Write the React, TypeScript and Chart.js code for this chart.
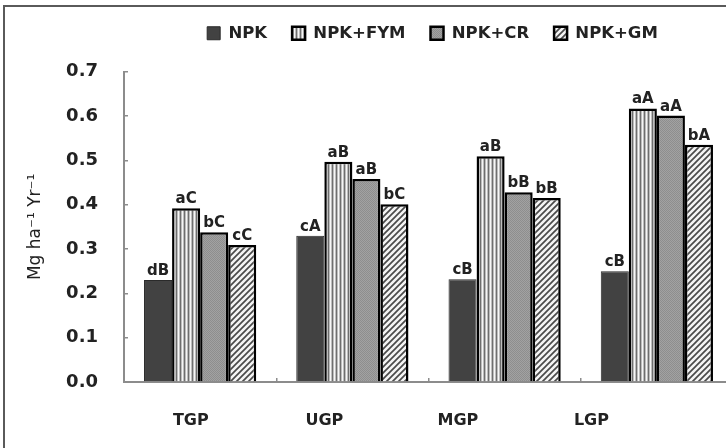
import React, { useEffect, useRef } from "react";
import { Chart, registerables } from "chart.js";

Chart.register(...registerables);

const categories = ["TGP", "UGP", "MGP", "LGP"];
const seriesNames = ["NPK", "NPK+FYM", "NPK+CR", "NPK+GM"];
const npk = [0.23, 0.33, 0.232, 0.25];
const npkFym = [0.392, 0.497, 0.509, 0.617];
const npkCr = [0.338, 0.458, 0.428, 0.601];
const npkGm = [0.309, 0.401, 0.415, 0.535];
const npkLetters = ["dB", "cA", "cB", "cB"];
const npkFymLetters = ["aC", "aB", "aB", "aA"];
const npkCrLetters = ["bC", "aB", "bB", "aA"];
const npkGmLetters = ["cC", "bC", "bB", "bA"];
const yMin = 0;
const yMax = 0.7;
const yStep = 0.1;
const yTitle = "Mg ha\u207B\u00B9 Yr\u207B\u00B9";

const FONT = "'DejaVu Sans', Verdana, sans-serif";
const TEXT = "#222222";
const AXIS = "#8c8c8c";

function makePattern(kind: string): CanvasPattern | string {
  const c = document.createElement("canvas");
  const ctx = c.getContext("2d");
  if (!ctx) return "#999";
  if (kind === "vstripe") {
    c.width = 4;
    c.height = 4;
    const cols = ["#6e6e6e", "#bdbdbd", "#f6f6f6", "#bdbdbd"];
    cols.forEach((col, i) => {
      ctx.fillStyle = col;
      ctx.fillRect(i, 0, 1, 4);
    });
  } else if (kind === "dots") {
    c.width = 2;
    c.height = 2;
    ctx.fillStyle = "#a2a2a2";
    ctx.fillRect(0, 0, 2, 2);
    ctx.fillStyle = "#8e8e8e";
    ctx.fillRect(0, 0, 1, 1);
    ctx.fillRect(1, 1, 1, 1);
  } else {
    c.width = 6;
    c.height = 6;
    ctx.fillStyle = "#f4f4f4";
    ctx.fillRect(0, 0, 6, 6);
    ctx.strokeStyle = "#4a4a4a";
    ctx.lineWidth = 1.7;
    ctx.beginPath();
    ctx.moveTo(-3, 3);
    ctx.lineTo(3, -3);
    ctx.moveTo(0, 6);
    ctx.lineTo(6, 0);
    ctx.moveTo(3, 9);
    ctx.lineTo(9, 3);
    ctx.stroke();
  }
  return ctx.createPattern(c, "repeat") || "#999";
}

export default function App() {
  const ref = useRef<HTMLCanvasElement | null>(null);

  useEffect(() => {
    const canvas = ref.current;
    if (!canvas) return;
    const letters = [npkLetters, npkFymLetters, npkCrLetters, npkGmLetters];

    const labelPlugin = {
      id: "barLetters",
      afterDatasetsDraw(chart: any) {
        const ctx = chart.ctx;
        ctx.save();
        ctx.font = `bold 15px ${FONT}`;
        ctx.fillStyle = TEXT;
        ctx.textAlign = "center";
        ctx.textBaseline = "alphabetic";
        chart.data.datasets.forEach((_ds: any, i: number) => {
          const meta = chart.getDatasetMeta(i);
          meta.data.forEach((el: any, j: number) => {
            ctx.fillText(letters[i][j], el.x, el.y - 5);
          });
        });
        ctx.restore();
      },
    };

    const legendShift = {
      id: "legendShift",
      afterLayout(chart: any) {
        const lg = chart.legend;
        if (lg) {
          lg.left += 4;
          lg.right += 4;
        }
      },
    };

    const chart = new Chart(canvas, {
      type: "bar",
      data: {
        labels: categories,
        datasets: [
          {
            label: seriesNames[0],
            data: npk,
            backgroundColor: "#424242",
            borderColor: "#2a2a2a",
            borderWidth: 1,
          },
          {
            label: seriesNames[1],
            data: npkFym,
            backgroundColor: makePattern("vstripe") as any,
            borderColor: "#000000",
            borderWidth: 2.5,
          },
          {
            label: seriesNames[2],
            data: npkCr,
            backgroundColor: makePattern("dots") as any,
            borderColor: "#000000",
            borderWidth: 2.5,
          },
          {
            label: seriesNames[3],
            data: npkGm,
            backgroundColor: makePattern("diag") as any,
            borderColor: "#000000",
            borderWidth: 2.5,
          },
        ],
      },
      options: {
        responsive: false,
        animation: false,
        devicePixelRatio: 1,
        layout: { padding: { left: 0, right: 27, top: 0, bottom: 0 } },
        datasets: {
          bar: { categoryPercentage: 0.737, barPercentage: 1.0 },
        },
        plugins: {
          tooltip: { enabled: false },
          legend: {
            position: "top",
            fullSize: false,
            labels: {
              boxWidth: 13,
              boxHeight: 13,
              padding: 25,
              color: TEXT,
              font: { family: FONT, size: 16.5, weight: "bold" },
            },
          },
          title: {
            display: true,
            text: " ",
            weight: 500,
            font: { size: 10, lineHeight: 1 },
            padding: { top: 5, bottom: 5.2 },
          } as any,
        },
        scales: {
          x: {
            weight: 0,
            offset: true,
            ticks: { display: false },
            grid: {
              display: true,
              drawOnChartArea: false,
              offset: true,
              tickLength: -4,
              color: AXIS,
              lineWidth: 1.5,
            },
            border: { display: true, color: AXIS, width: 2 },
            afterFit: (s: any) => {
              s.height = 0;
            },
          },
          x2: {
            type: "linear",
            position: "bottom",
            weight: 1,
            offset: false,
            min: 0,
            max: 4.56,
            afterBuildTicks: (s: any) => {
              s.ticks = categories.map((_c, i) => ({ value: i + 0.5 }));
            },
            ticks: {
              autoSkip: false,
              maxRotation: 0,
              callback: (_v: any, i: number) => categories[i],
              color: TEXT,
              padding: 29,
              font: { family: FONT, size: 16, weight: "bold" },
            },
            grid: { display: false, drawTicks: false, offset: false },
            border: { display: false },
            afterFit: (s: any) => {
              s.height = 66;
            },
          },
          y: {
            min: yMin,
            max: yMax,
            ticks: {
              stepSize: yStep,
              callback: (v: any) => Number(v).toFixed(1),
              color: TEXT,
              padding: 30,
              font: { family: FONT, size: 18, weight: "bold" },
            },
            grid: {
              drawOnChartArea: false,
              tickLength: -4,
              color: AXIS,
              lineWidth: 1.5,
            },
            border: { display: true, color: AXIS, width: 2 },
            title: {
              display: true,
              text: yTitle,
              color: TEXT,
              font: { family: FONT, size: 17 },
              padding: { top: 25, bottom: 0 },
            },
            afterFit: (s: any) => {
              s.width = 124;
            },
          },
        } as any,
      },
      plugins: [labelPlugin, legendShift],
    });

    return () => {
      chart.destroy();
    };
  }, []);

  return (
    <div
      style={{
        position: "fixed",
        left: 0,
        top: 0,
        width: 726,
        height: 448,
        overflow: "hidden",
        background: "#ffffff",
      }}
    >
      <div
        style={{
          position: "absolute",
          left: 3,
          top: 5,
          width: 900,
          height: 600,
          borderLeft: "2px solid #5a5a5a",
          borderTop: "2px solid #5a5a5a",
          boxSizing: "border-box",
        }}
      />
      <canvas
        ref={ref}
        width={760}
        height={448}
        style={{ position: "absolute", left: 0, top: 0, width: 760, height: 448, display: "block" }}
      />
    </div>
  );
}
